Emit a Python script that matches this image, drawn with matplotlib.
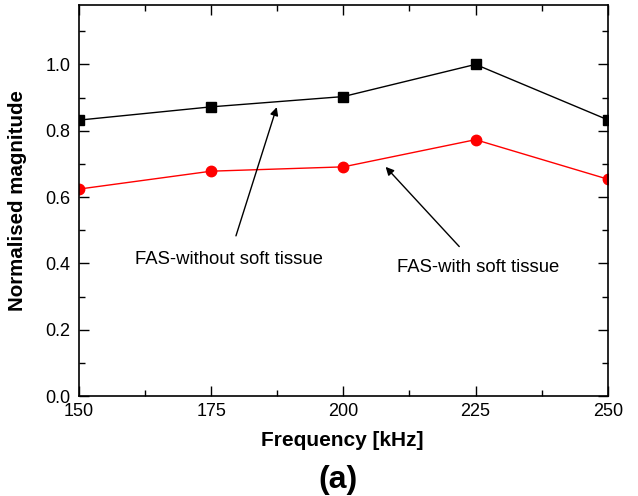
import matplotlib
matplotlib.use("Agg")
import matplotlib.pyplot as plt
from matplotlib.ticker import MultipleLocator

plt.rcParams['font.family'] = ['Liberation Sans', 'DejaVu Sans']

# data
freq = [150, 175, 200, 225, 250]
without_tissue = [0.832, 0.872, 0.903, 1.000, 0.833]
with_tissue = [0.624, 0.678, 0.691, 0.773, 0.654]

fig = plt.figure(figsize=(6.38, 4.96), dpi=100)
ax = fig.add_axes([0.1238, 0.2016, 0.8287, 0.7889])

ax.plot(freq, without_tissue, color="black", lw=1, marker="s", ms=6.5)
ax.plot(freq, with_tissue, color="red", lw=1, marker="o", ms=7.5)

ax.set_xlim(150, 250)
ax.set_ylim(0, 1.18)
ax.xaxis.set_major_locator(MultipleLocator(25))
ax.xaxis.set_minor_locator(MultipleLocator(12.5))
ax.yaxis.set_major_locator(MultipleLocator(0.2))
ax.yaxis.set_minor_locator(MultipleLocator(0.1))
ax.yaxis.set_major_formatter(plt.FormatStrFormatter("%.1f"))
ax.tick_params(which="both", direction="in", top=True, right=True, labelsize=13, width=1)
ax.tick_params(which="major", length=7)
ax.tick_params(which="minor", length=4)
ax.tick_params(axis="y", pad=6)
ax.tick_params(axis="x", pad=5)
for s in ax.spines.values():
    s.set_linewidth(1.2)

# annotations
ax.annotate("FAS-without soft tissue", xy=(187.4, 0.871), xytext=(178.3, 0.413),
            ha="center", va="center", fontsize=13.3,
            arrowprops=dict(arrowstyle="-|>", color="black", lw=1, shrinkA=9, shrinkB=0,
                            mutation_scale=12))
ax.annotate("FAS-with soft tissue", xy=(208.0, 0.691), xytext=(225.5, 0.389),
            ha="center", va="center", fontsize=13.3,
            arrowprops=dict(arrowstyle="-|>", color="black", lw=1, shrinkA=9, shrinkB=0,
                            mutation_scale=12))

fig.text(342 / 638, 1 - 441 / 496, "Frequency [kHz]", ha="center", va="center",
         fontsize=15, fontweight="bold")
fig.text(18 / 638, 1 - 201 / 496, "Normalised magnitude", ha="center", va="center",
         rotation=90, fontsize=14.8, fontweight="bold")
fig.text(338 / 638, 1 - 480 / 496, "(a)", ha="center", va="center", fontsize=23,
         fontweight="bold")

fig.savefig("out.png", dpi=100)
